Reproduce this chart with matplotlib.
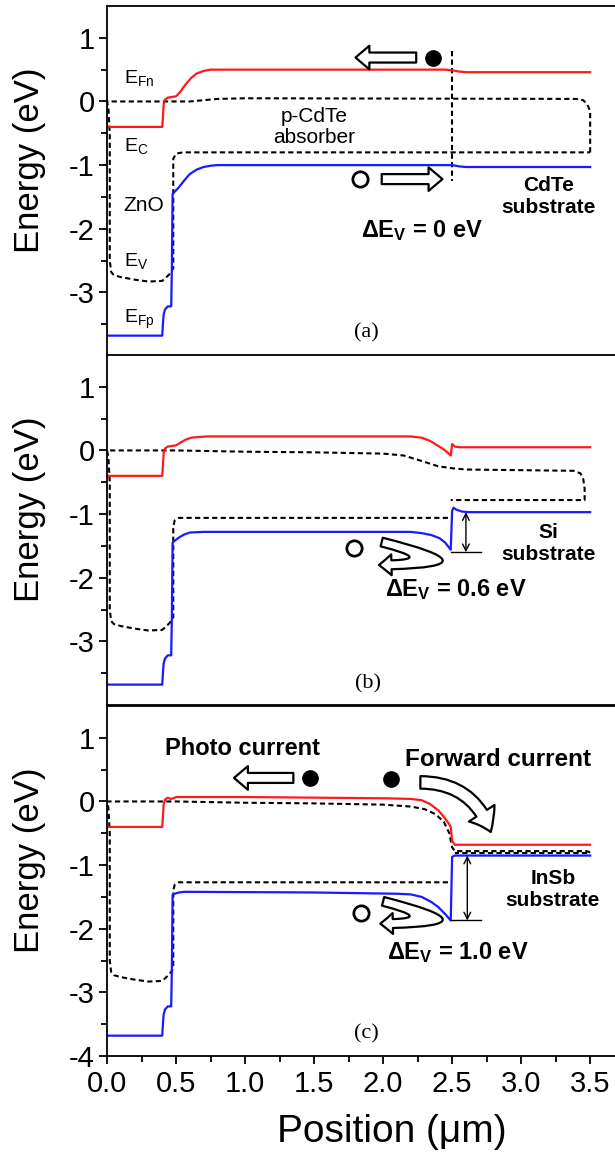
import numpy as np
import matplotlib
matplotlib.use('Agg')
import matplotlib.pyplot as plt
from matplotlib.patches import FancyArrowPatch

plt.rcParams['font.family'] = ['Liberation Sans', 'DejaVu Sans']
plt.rcParams['mathtext.default'] = 'regular'
plt.rcParams['axes.unicode_minus'] = False

# ---- data (x in um, energy in eV) ----
# panel (a): CdTe substrate
red_a_x = [0, 0.40, 0.405, 0.41, 0.42, 0.44, 0.47, 0.50, 0.53, 0.57, 0.61, 0.65, 0.70, 0.75, 0.80, 2.45, 2.50, 2.55, 2.60, 3.50]
red_a_y = [-0.40, -0.40, -0.25, -0.05, 0.03, 0.06, 0.07, 0.08, 0.15, 0.27, 0.37, 0.44, 0.48, 0.50, 0.50, 0.50, 0.49, 0.47, 0.46, 0.46]
blue_a_x = [0, 0.40, 0.405, 0.41, 0.42, 0.44, 0.465, 0.47, 0.475, 0.49, 0.52, 0.56, 0.60, 0.65, 0.70, 0.75, 0.80, 2.45, 2.50, 2.55, 2.60, 3.50]
blue_a_y = [-3.68, -3.68, -3.50, -3.35, -3.27, -3.22, -3.22, -2.60, -1.45, -1.42, -1.35, -1.24, -1.14, -1.07, -1.03, -1.01, -1.00, -1.00, -1.00, -1.02, -1.03, -1.03]
band_a_x = [3.50, 3.50, 3.48, 3.45, 3.40, 1.00, 0.80, 0.60, 0.00, 0.01, 0.02, 0.02, 0.03, 0.05, 0.10, 0.20, 0.30, 0.40, 0.45, 0.47, 0.48, 0.48, 0.50, 0.55, 3.50]
band_a_y = [-0.80, -0.15, -0.05, 0.02, 0.04, 0.05, 0.04, 0.00, 0.00, -0.10, -0.50, -2.50, -2.68, -2.73, -2.76, -2.80, -2.83, -2.82, -2.72, -2.66, -2.62, -0.90, -0.82, -0.80, -0.80]
iface_a_x = [2.50, 2.50]
iface_a_y = [0.80, -1.25]

# panel (b): Si substrate
red_b_x = [0, 0.40, 0.405, 0.41, 0.42, 0.44, 0.47, 0.50, 0.53, 0.57, 0.61, 0.66, 0.72, 2.20, 2.28, 2.34, 2.40, 2.45, 2.49, 2.50, 2.52, 2.56, 3.50]
red_b_y = [-0.40, -0.40, -0.25, -0.05, 0.03, 0.06, 0.07, 0.08, 0.12, 0.17, 0.20, 0.21, 0.22, 0.22, 0.20, 0.15, 0.07, 0.00, -0.08, 0.10, 0.06, 0.05, 0.05]
blue_b_x = [0, 0.40, 0.405, 0.41, 0.42, 0.44, 0.465, 0.47, 0.475, 0.49, 0.52, 0.56, 0.60, 0.70, 2.20, 2.28, 2.35, 2.41, 2.45, 2.49, 2.50, 2.51, 2.53, 2.57, 2.62, 3.50]
blue_b_y = [-3.68, -3.68, -3.50, -3.35, -3.27, -3.22, -3.22, -2.60, -1.45, -1.42, -1.37, -1.32, -1.29, -1.28, -1.28, -1.30, -1.33, -1.38, -1.45, -1.56, -0.95, -0.90, -0.93, -0.96, -0.97, -0.97]
band_b_x = [2.47, 0.52, 0.49, 0.48, 0.48, 0.47, 0.45, 0.40, 0.30, 0.20, 0.10, 0.05, 0.03, 0.02, 0.02, 0.01, 0.00, 0.50, 1.00, 1.50, 2.00, 2.15, 2.30, 2.40, 2.50, 2.60, 3.38, 3.43, 3.45, 3.46, 3.46, 2.49]
band_b_y = [-1.06, -1.06, -1.10, -1.20, -2.62, -2.66, -2.72, -2.82, -2.83, -2.80, -2.76, -2.73, -2.68, -2.50, -0.50, -0.10, 0.00, 0.00, -0.02, -0.03, -0.05, -0.08, -0.18, -0.25, -0.28, -0.30, -0.32, -0.36, -0.45, -0.60, -0.78, -0.78]
dv_b = [-0.97, -1.60]

# panel (c): InSb substrate
red_c_x = [0, 0.40, 0.405, 0.41, 0.42, 0.44, 0.46, 0.48, 0.50, 1.00, 1.50, 2.00, 2.20, 2.28, 2.34, 2.40, 2.44, 2.48, 2.49, 2.50, 2.52, 3.50]
red_c_y = [-0.40, -0.40, -0.25, -0.05, 0.03, 0.06, 0.04, 0.05, 0.07, 0.07, 0.06, 0.05, 0.04, 0.02, -0.04, -0.14, -0.24, -0.36, -0.40, -0.62, -0.68, -0.68]
blue_c_x = [0, 0.40, 0.405, 0.41, 0.42, 0.44, 0.465, 0.47, 0.475, 0.49, 0.52, 0.56, 0.60, 1.50, 2.10, 2.20, 2.28, 2.35, 2.40, 2.45, 2.49, 2.50, 2.52, 3.50]
blue_c_y = [-3.68, -3.68, -3.50, -3.35, -3.27, -3.22, -3.22, -2.60, -1.47, -1.45, -1.43, -1.42, -1.42, -1.43, -1.45, -1.46, -1.50, -1.58, -1.66, -1.77, -1.87, -0.87, -0.85, -0.85]
band_c_x = [2.47, 0.52, 0.49, 0.48, 0.48, 0.47, 0.45, 0.40, 0.30, 0.20, 0.10, 0.05, 0.03, 0.02, 0.02, 0.01, 0.00, 0.50, 1.00, 1.50, 2.00, 2.20, 2.30, 2.38, 2.44, 2.48, 2.50, 2.52, 3.47, 3.49, 3.50, 2.52]
band_c_y = [-1.27, -1.27, -1.31, -1.40, -2.62, -2.66, -2.72, -2.82, -2.83, -2.80, -2.76, -2.73, -2.68, -2.50, -0.50, -0.10, 0.00, 0.00, -0.02, -0.03, -0.05, -0.08, -0.12, -0.20, -0.32, -0.50, -0.72, -0.78, -0.78, -0.79, -0.81, -0.81]
dv_c = [-0.85, -1.87]

xticks = [0.0, 0.5, 1.0, 1.5, 2.0, 2.5, 3.0, 3.5]
xticklabels = ['0.0', '0.5', '1.0', '1.5', '2.0', '2.5', '3.0', '3.5']

RED = '#ff1a1a'
BLUE = '#1a1aff'
DASH = (0, (2.5, 1.6))

fig = plt.figure(figsize=(6.15, 11.54), dpi=100)
ax_a = fig.add_axes([0.174, 0.6915, 0.826, 0.3033])
ax_b = fig.add_axes([0.174, 0.3891, 0.826, 0.3033])
ax_c = fig.add_axes([0.174, 0.0849, 0.826, 0.3033])


def hollow(ax, p0, p1, rad=0.0, tw=0.36, hw=0.85, hl=0.5, ms=20):
    arr = FancyArrowPatch(p0, p1, connectionstyle='arc3,rad=%g' % rad,
                          arrowstyle='simple,tail_width=%g,head_width=%g,head_length=%g' % (tw, hw, hl),
                          mutation_scale=ms, facecolor='white', edgecolor='black',
                          lw=1.6, shrinkA=0, shrinkB=0, zorder=5)
    ax.add_patch(arr)


def dbl(ax, x, y0, y1):
    ax.annotate('', xy=(x, y0), xytext=(x, y1),
                arrowprops=dict(arrowstyle='<->', lw=1.0, color='k',
                                shrinkA=0, shrinkB=0, mutation_scale=12))
    ax.plot([2.49, 2.71], [y1, y1], color='k', lw=1.0)


for ax in (ax_a, ax_b, ax_c):
    ax.set_xlim(0, 3.68)
    ax.set_ylim(-4, 1.5)
    ax.spines['right'].set_visible(False)
    for s in ('left', 'top', 'bottom'):
        ax.spines[s].set_linewidth(1.3)
    ax.set_yticks([-3, -2, -1, 0, 1])
    ax.set_yticks([-3.5, -2.5, -1.5, -0.5, 0.5], minor=True)
    ax.tick_params(axis='y', which='major', direction='out', length=6, width=1.3, labelsize=21, pad=3)
    ax.tick_params(axis='y', which='minor', direction='out', length=4, width=1.3)
    ax.set_ylabel('Energy (eV)', fontsize=25)
    ax.yaxis.set_label_coords(-0.12, 0.56)

for ax in (ax_a, ax_b):
    ax.set_xticks([])

ax_c.set_yticks([-4, -3, -2, -1, 0, 1])
ax_c.set_yticks([-3.5, -2.5, -1.5, -0.5, 0.5], minor=True)
ax_c.set_xticks(xticks)
ax_c.set_xticklabels(xticklabels)
ax_c.set_xticks([0.25, 0.75, 1.25, 1.75, 2.25, 2.75, 3.25], minor=True)
ax_c.tick_params(axis='x', which='major', direction='out', length=6, width=1.3, labelsize=21, pad=4)
ax_c.tick_params(axis='x', which='minor', direction='out', length=4, width=1.3)
ax_c.set_xlabel('Position (μm)', fontsize=28)
ax_c.xaxis.set_label_coords(0.56, -0.165)

# ---- panel (a) ----
ax = ax_a
ax.plot(band_a_x, band_a_y, color='k', lw=1.5, ls=DASH)
ax.plot(iface_a_x, iface_a_y, color='k', lw=1.5, ls=DASH)
ax.plot(red_a_x, red_a_y, color=RED, lw=1.6)
ax.plot(blue_a_x, blue_a_y, color=BLUE, lw=1.6)
hollow(ax, (2.24, 0.69), (1.80, 0.69))
ax.plot(2.36, 0.69, 'o', color='k', ms=11)
ax.plot(1.83, -1.22, 'o', mfc='white', mec='k', mew=2, ms=11)
hollow(ax, (1.99, -1.22), (2.43, -1.22))
ax.text(0.12, 0.37, 'E$_{Fn}$', fontsize=14, va='center')
ax.text(0.12, -0.70, 'E$_{C}$', fontsize=14, va='center')
ax.text(0.12, -1.64, 'ZnO', fontsize=15, va='center')
ax.text(0.12, -2.50, 'E$_{V}$', fontsize=14, va='center')
ax.text(0.12, -3.43, 'E$_{Fp}$', fontsize=14, va='center')
ax.text(1.50, -0.40, 'p-CdTe\nabsorber', fontsize=15, ha='center', va='center', linespacing=1.1)
ax.text(3.20, -1.50, 'CdTe\nsubstrate', fontsize=15, fontweight='bold', ha='center', va='center', linespacing=1.2)
ax.text(2.28, -2.03, 'ΔE$_{V}$ = 0 eV', fontsize=17, fontweight='bold', ha='center', va='center')
ax.text(1.88, -3.64, '(a)', fontsize=16, family='Liberation Serif', ha='center', va='center')

# ---- panel (b) ----
ax = ax_b
ax.plot(band_b_x, band_b_y, color='k', lw=1.5, ls=DASH)
ax.plot(red_b_x, red_b_y, color=RED, lw=1.6)
ax.plot(blue_b_x, blue_b_y, color=BLUE, lw=1.6)
dbl(ax, 2.60, dv_b[0], dv_b[1])
ax.plot(1.79, -1.53, 'o', mfc='white', mec='k', mew=2, ms=11)
hollow(ax, (1.99, -1.44), (1.97, -1.80), rad=-4.0, tw=0.32, hw=0.75, hl=0.45)
ax.text(3.20, -1.46, 'Si\nsubstrate', fontsize=15, fontweight='bold', ha='center', va='center', linespacing=1.2)
ax.text(2.53, -2.19, 'ΔE$_{V}$ = 0.6 eV', fontsize=17, fontweight='bold', ha='center', va='center')
ax.text(1.89, -3.67, '(b)', fontsize=16, family='Liberation Serif', ha='center', va='center')

# ---- panel (c) ----
ax = ax_c
ax.plot(band_c_x, band_c_y, color='k', lw=1.5, ls=DASH)
ax.plot(red_c_x, red_c_y, color=RED, lw=1.6)
ax.plot(blue_c_x, blue_c_y, color=BLUE, lw=1.6)
dbl(ax, 2.61, dv_c[0], dv_c[1])
ax.text(0.98, 0.84, 'Photo current', fontsize=17, fontweight='bold', ha='center', va='center')
hollow(ax, (1.35, 0.37), (0.92, 0.37))
ax.plot(1.47, 0.37, 'o', color='k', ms=11)
ax.plot(2.06, 0.35, 'o', color='k', ms=11)
ax.text(2.16, 0.66, 'Forward current', fontsize=17.5, fontweight='bold', ha='left', va='center')
hollow(ax, (2.27, 0.30), (2.78, -0.48), rad=-0.35, tw=0.45, hw=1.1, hl=0.75)
ax.plot(1.84, -1.75, 'o', mfc='white', mec='k', mew=2, ms=11)
hollow(ax, (2.00, -1.57), (1.98, -1.92), rad=-4.0, tw=0.32, hw=0.75, hl=0.45)
ax.text(3.23, -1.38, 'InSb\nsubstrate', fontsize=15, fontweight='bold', ha='center', va='center', linespacing=1.2)
ax.text(2.54, -2.37, 'ΔE$_{V}$ = 1.0 eV', fontsize=17, fontweight='bold', ha='center', va='center')
ax.text(1.88, -3.65, '(c)', fontsize=16, family='Liberation Serif', ha='center', va='center')

fig.savefig('out.png', dpi=100)
